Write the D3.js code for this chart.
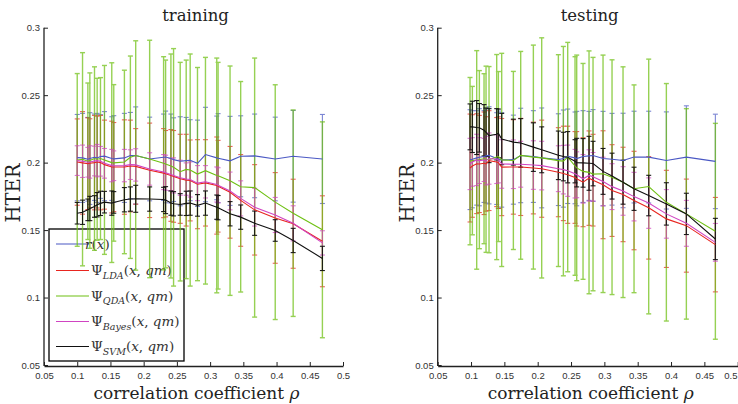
<!DOCTYPE html>
<html><head><meta charset="utf-8">
<script src="https://cdn.jsdelivr.net/npm/d3@7"></script>
<style>body{margin:0;background:#fff} svg{display:block}</style>
</head><body>
<script>
// ---------- data ----------
const xTickLabels = ["0.05","0.1","0.15","0.2","0.25","0.3","0.35","0.4","0.45","0.5"];
const yTickLabels = ["0.05","0.1","0.15","0.2","0.25","0.3"];
const seriesNames = ["r(x)","LDA","QDA","Bayes","SVM"];

// training
const trainX = [0.100,0.108,0.116,0.119,0.126,0.130,0.135,0.141,0.152,0.155,0.171,0.180,0.188,0.209,0.230,0.233,0.241,0.245,0.255,0.264,0.270,0.281,0.293,0.310,0.312,0.330,0.346,0.367,0.398,0.425,0.469];
const trainR      = [0.2037,0.2035,0.2025,0.2030,0.2040,0.2035,0.2045,0.2048,0.2030,0.2028,0.2035,0.2052,0.2053,0.2027,0.2040,0.2042,0.2030,0.2022,0.2010,0.2015,0.2018,0.1995,0.2060,0.2035,0.2033,0.2013,0.2047,0.2050,0.2027,0.2047,0.2027];
const trainRErr   = [0.032,0.033,0.031,0.034,0.032,0.033,0.031,0.033,0.031,0.032,0.033,0.032,0.036,0.031,0.032,0.034,0.033,0.031,0.033,0.032,0.030,0.032,0.035,0.031,0.033,0.033,0.030,0.031,0.031,0.034,0.033];
const trainLDA    = [0.2004,0.1998,0.1992,0.1995,0.2000,0.2004,0.2000,0.1985,0.1967,0.1967,0.1967,0.1975,0.1972,0.1943,0.1922,0.1918,0.1905,0.1898,0.1880,0.1870,0.1868,0.1840,0.1850,0.1830,0.1825,0.1780,0.1720,0.1650,0.1590,0.1547,0.1417];
const trainLDAErr = [0.032,0.038,0.034,0.033,0.035,0.034,0.035,0.033,0.034,0.033,0.035,0.034,0.028,0.035,0.033,0.032,0.034,0.034,0.033,0.034,0.030,0.033,0.032,0.036,0.034,0.034,0.034,0.0335,0.0336,0.033,0.0337];
const trainQDA    = [0.2020,0.2025,0.2010,0.2015,0.2030,0.2025,0.2030,0.2020,0.2000,0.1998,0.2005,0.2040,0.2053,0.2027,0.1995,0.1990,0.1975,0.1965,0.1933,0.1950,0.1945,0.1915,0.1940,0.1905,0.1903,0.1866,0.1821,0.1815,0.1707,0.1625,0.1502];
const trainQDAErr = [0.064,0.079,0.058,0.065,0.068,0.060,0.060,0.070,0.074,0.058,0.068,0.075,0.085,0.088,0.079,0.077,0.083,0.088,0.081,0.081,0.086,0.079,0.084,0.087,0.084,0.085,0.078,0.096,0.087,0.0765,0.080];
const trainBayes    = [0.2015,0.2010,0.2003,0.2005,0.2012,0.2015,0.2010,0.1995,0.1978,0.1977,0.1978,0.1985,0.1983,0.1953,0.1930,0.1925,0.1912,0.1905,0.1888,0.1878,0.1875,0.1848,0.1858,0.1838,0.1832,0.1790,0.1735,0.1670,0.1612,0.1550,0.1405];
const trainBayesErr = [0.011,0.012,0.011,0.012,0.011,0.012,0.011,0.011,0.012,0.011,0.012,0.011,0.012,0.012,0.013,0.013,0.012,0.013,0.013,0.012,0.013,0.013,0.012,0.013,0.013,0.014,0.013,0.014,0.013,0.013,0.009];
const trainSVM    = [0.1625,0.1632,0.1650,0.1660,0.1675,0.1688,0.1698,0.1707,0.1700,0.1705,0.1725,0.1730,0.1732,0.1730,0.1727,0.1722,0.1700,0.1695,0.1690,0.1698,0.1700,0.1683,0.1700,0.1670,0.1666,0.1621,0.1596,0.1551,0.1497,0.1423,0.1290];
const trainSVMErr = [0.008,0.009,0.008,0.009,0.008,0.009,0.009,0.008,0.009,0.008,0.009,0.009,0.010,0.009,0.009,0.010,0.009,0.009,0.008,0.009,0.009,0.008,0.009,0.009,0.009,0.009,0.009,0.009,0.008,0.009,0.009];

// testing
const testX = [0.0985,0.102,0.1085,0.1125,0.1195,0.1225,0.127,0.1385,0.141,0.146,0.1635,0.1745,0.1935,0.206,0.231,0.2385,0.245,0.256,0.2585,0.268,0.277,0.283,0.298,0.3115,0.328,0.3445,0.3665,0.393,0.423,0.4665];
const testR      = [0.2022,0.2025,0.2035,0.2040,0.2045,0.2050,0.2054,0.2030,0.2022,0.2020,0.2022,0.2053,0.2045,0.2035,0.2022,0.2030,0.2047,0.2035,0.2030,0.2045,0.2050,0.2053,0.2030,0.2025,0.2016,0.2041,0.2041,0.2016,0.2041,0.2009];
const testRErr   = [0.037,0.036,0.035,0.036,0.034,0.035,0.036,0.034,0.036,0.035,0.033,0.035,0.034,0.037,0.034,0.036,0.035,0.034,0.035,0.034,0.033,0.034,0.035,0.034,0.035,0.034,0.034,0.036,0.038,0.035];
const testLDA    = [0.1960,0.1975,0.1992,0.1990,0.1995,0.1990,0.2015,0.2004,0.2000,0.1967,0.1968,0.1968,0.1960,0.1955,0.1929,0.1920,0.1910,0.1890,0.1880,0.1855,0.1885,0.1870,0.1836,0.1793,0.1764,0.1719,0.1665,0.1583,0.1533,0.1392];
const testLDAErr = [0.040,0.038,0.037,0.036,0.038,0.035,0.037,0.033,0.034,0.036,0.035,0.036,0.034,0.036,0.033,0.035,0.036,0.034,0.035,0.033,0.035,0.034,0.040,0.034,0.035,0.0365,0.038,0.036,0.0345,0.035];
const testQDA    = [0.2011,0.2015,0.2020,0.2022,0.2029,0.2025,0.2022,0.2041,0.2045,0.2020,0.2016,0.2054,0.2041,0.2035,0.2015,0.2011,0.2041,0.1975,0.1961,0.1935,0.1928,0.1915,0.1917,0.1892,0.1855,0.1806,0.1823,0.1706,0.1620,0.1491];
const testQDAErr = [0.062,0.055,0.081,0.066,0.063,0.069,0.069,0.076,0.063,0.079,0.066,0.077,0.083,0.089,0.0785,0.085,0.085,0.081,0.0836,0.080,0.090,0.0865,0.088,0.087,0.0855,0.077,0.0944,0.088,0.078,0.080];
const testBayes    = [0.1990,0.2005,0.2020,0.2015,0.2020,0.2015,0.2030,0.2025,0.2020,0.1990,0.1988,0.1988,0.1982,0.1978,0.1955,0.1948,0.1940,0.1918,0.1910,0.1880,0.1905,0.1895,0.1860,0.1822,0.1790,0.1748,0.1700,0.1620,0.1550,0.1409];
const testBayesErr = [0.019,0.018,0.019,0.017,0.016,0.018,0.019,0.018,0.017,0.018,0.018,0.017,0.018,0.018,0.017,0.018,0.019,0.018,0.017,0.018,0.019,0.018,0.018,0.017,0.018,0.018,0.0187,0.018,0.017,0.014];
const testSVM    = [0.2265,0.2265,0.2260,0.2258,0.2240,0.2225,0.2200,0.2210,0.2217,0.2175,0.2152,0.2146,0.2115,0.2095,0.2054,0.2045,0.2040,0.2010,0.2000,0.1998,0.1995,0.1993,0.1935,0.1900,0.1855,0.1806,0.1756,0.1694,0.1620,0.1434];
const testSVMErr = [0.017,0.019,0.020,0.018,0.019,0.018,0.020,0.019,0.018,0.019,0.017,0.018,0.018,0.017,0.018,0.018,0.019,0.016,0.018,0.018,0.020,0.0165,0.017,0.017,0.0163,0.016,0.015,0.0157,0.0153,0.0153];

// ---------- drawing ----------
const colors = ["#4a58c4","#e8251f","#6ec012","#d044c2","#111111"];
const W = 738, H = 404;
const svg = d3.select("body").append("svg").attr("width", W).attr("height", H);

const panels = [
  {title:"training", xr:[44,343], xs:trainX,
   means:[trainR,trainLDA,trainQDA,trainBayes,trainSVM],
   errs:[trainRErr,trainLDAErr,trainQDAErr,trainBayesErr,trainSVMErr], legend:true},
  {title:"testing", xr:[437.7,737.7], xs:testX,
   means:[testR,testLDA,testQDA,testBayes,testSVM],
   errs:[testRErr,testLDAErr,testQDAErr,testBayesErr,testSVMErr], legend:false}
];

const serif = "'DejaVu Serif', 'Liberation Serif', serif";

panels.forEach(p => {
  const x = d3.scaleLinear().domain([0.05,0.5]).range(p.xr);
  const y = d3.scaleLinear().domain([0.05,0.3]).range([365,27.7]);
  const g = svg.append("g");
  const cx = (p.xr[0]+p.xr[1])/2;

  // title
  g.append("text").attr("x", cx + 2).attr("y", 21).attr("text-anchor","middle")
    .attr("font-family", serif).attr("font-size", 16.5).attr("fill","#222").text(p.title);
  // y label
  g.append("text").attr("transform", `translate(${p.xr[0]-24},193) rotate(-90)`)
    .attr("text-anchor","middle").attr("font-family", serif).attr("font-size", 19.5).attr("fill","#222").text("HTER");
  // x label
  g.append("text").attr("x", cx + 3).attr("y", 399).attr("text-anchor","middle")
    .attr("font-family", serif).attr("font-size", 17).attr("fill","#222")
    .text("correlation coefficient ").append("tspan").attr("font-style","italic").text("ρ");

  // legend (behind the data)
  if (p.legend) {
    const lg = g.append("g");
    lg.append("rect").attr("x",49).attr("y",229).attr("width",135).attr("height",132)
      .attr("fill","#fff").attr("stroke","#000").attr("stroke-width",1.3);
    const rowsY = [244, 270.5, 296, 321.5, 346.5];
    seriesNames.forEach((nm, i) => {
      lg.append("line").attr("x1",56).attr("x2",89).attr("y1",rowsY[i]).attr("y2",rowsY[i])
        .attr("stroke",colors[i]).attr("stroke-width",1.2);
      const t = lg.append("text").attr("x", i===0 ? 85 : 91).attr("y", rowsY[i]+4.5)
        .attr("font-family", serif).attr("font-size",13.5).attr("fill","#333");
      if (i === 0) {
        t.append("tspan").attr("font-style","italic").text("r");
        t.append("tspan").text("(");
        t.append("tspan").attr("font-style","italic").text("x");
        t.append("tspan").text(")");
      } else {
        t.append("tspan").text("Ψ");
        t.append("tspan").attr("font-style","italic").attr("font-size",9.5).attr("dy",3.5).text(nm);
        t.append("tspan").attr("dy",-3.5).text("(");
        t.append("tspan").attr("font-style","italic").text("x");
        t.append("tspan").text(", ");
        t.append("tspan").attr("font-style","italic").text("qm");
        t.append("tspan").text(")");
      }
    });
  }

  // error bars
  const order = [0,1,2,3,4];
  order.forEach(si => {
    const eg = g.append("g").attr("stroke", colors[si])
      .attr("stroke-width", si===2 ? 1.4 : 1.1).attr("opacity", si===4 ? 0.95 : 0.72);
    p.xs.forEach((xv, i) => {
      const m = p.means[si][i], e = p.errs[si][i];
      const px = x(xv), y1 = y(m+e), y2 = y(m-e);
      eg.append("line").attr("x1",px).attr("x2",px).attr("y1",y1).attr("y2",y2);
      eg.append("line").attr("x1",px-2.5).attr("x2",px+2.5).attr("y1",y1).attr("y2",y1);
      eg.append("line").attr("x1",px-2.5).attr("x2",px+2.5).attr("y1",y2).attr("y2",y2);
    });
  });

  // mean lines
  order.forEach(si => {
    const line = d3.line().x((d,i) => x(p.xs[i])).y(d => y(d));
    g.append("path").datum(p.means[si]).attr("d", line).attr("fill","none")
      .attr("stroke", colors[si]).attr("stroke-width", 1.1);
  });

  // axes
  const yAxis = d3.axisLeft(y).tickValues(yTickLabels.map(Number)).tickFormat((d,i)=>yTickLabels[i])
    .tickSizeInner(-4).tickSizeOuter(0).tickPadding(4);
  const ya = g.append("g").attr("transform",`translate(${p.xr[0]},0)`).call(yAxis);
  const xAxis = d3.axisBottom(x).tickValues(xTickLabels.map(Number)).tickFormat((d,i)=>xTickLabels[i])
    .tickSizeInner(-4).tickSizeOuter(0).tickPadding(6);
  const xa = g.append("g").attr("transform","translate(0,366)").call(xAxis);
  [ya, xa].forEach(a => {
    a.selectAll("path.domain").attr("stroke","#222").attr("stroke-width",1.3);
    a.selectAll(".tick line").attr("stroke","#222");
    a.selectAll("text").attr("font-family","'Liberation Sans', Arial, sans-serif")
      .attr("font-size",9.5).attr("fill","#333");
  });
  ya.select("path.domain").attr("d", `M0,366V27.7`);
  // keep the last x label inside the window
  xa.selectAll(".tick text").filter(function(){
    const tr = this.parentNode.getAttribute("transform");
    const tx = +tr.match(/translate\(([-\d.]+)/)[1];
    return tx > W - 8;
  }).attr("text-anchor","end").attr("dx", W - 1 - p.xr[1]);
});
</script>
</body></html>
